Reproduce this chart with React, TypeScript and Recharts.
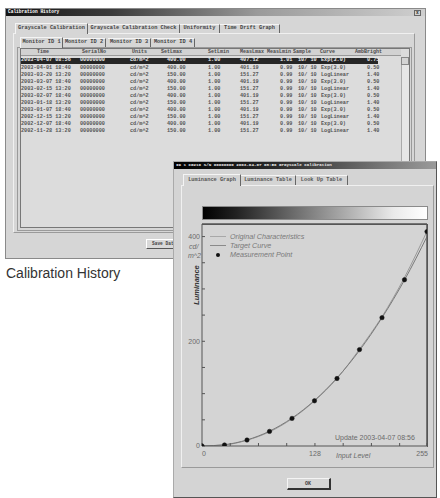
import React, { useEffect, useState } from 'react';
import { ComposedChart, Line, XAxis, YAxis, ReferenceLine, Legend } from 'recharts';

// ---- chart data ----
const inputLevels = [0, 25.5, 51, 76.5, 102, 127.5, 153, 178.5, 204, 229.5, 255];
const originalCharacteristics = [0, 2, 11, 27, 52, 86, 129, 185, 247, 322, 410];
const targetCurve = [0, 2.5, 11.6, 28.3, 53.3, 87, 130, 182.5, 245, 317, 400];
const measurementPoints = [0, 1.9, 11.4, 27.9, 52.7, 86.3, 128.9, 184.1, 245.1, 317.5, 409.5];
const xTicks = [0, 32, 64, 96, 128, 160, 192, 224, 255];
const xTickLabels = [0, 128, 255];
const yTicks = [0, 50, 100, 150, 200, 250, 300, 350, 400];
const yTickLabels = [0, 200, 400];
const legendLabels = ['Original Characteristics', 'Target Curve', 'Measurement Point'];

// ---- background window text ----
const mainTabs = ['Grayscale Calibration', 'Grayscale Calibration Check', 'Uniformity', 'Time Drift Graph'];
const monitorTabs = ['Monitor ID 1', 'Monitor ID 2', 'Monitor ID 3', 'Monitor ID 4'];
const tableHeaders = ['Time', 'SerialNo', 'Units', 'SetLmax', 'SetLmin', 'MeasLmax', 'MeasLmin', 'Sample', 'Curve', 'AmbBright'];
const historyRows = [
  ['2003-04-07 08:56', '00000000', 'cd/m^2', '400.00', '1.00', '407.12', '1.01', '10/ 10', 'Exp(3.0)', '0.75'],
  ['2003-04-01 18:40', '00000000', 'cd/m^2', '400.00', '1.00', '401.19', '0.99', '10/ 10', 'Exp(3.0)', '0.50'],
  ['2003-03-20 13:20', '00000000', 'cd/m^2', '150.00', '1.00', '151.27', '0.99', '10/ 10', 'LogLinear', '1.40'],
  ['2003-03-07 18:40', '00000000', 'cd/m^2', '400.00', '1.00', '401.19', '0.99', '10/ 10', 'Exp(3.0)', '0.50'],
  ['2003-02-15 13:20', '00000000', 'cd/m^2', '150.00', '1.00', '151.27', '0.99', '10/ 10', 'LogLinear', '1.40'],
  ['2003-02-07 18:40', '00000000', 'cd/m^2', '400.00', '1.00', '401.19', '0.99', '10/ 10', 'Exp(3.0)', '0.50'],
  ['2003-01-18 13:20', '00000000', 'cd/m^2', '150.00', '1.00', '151.27', '0.99', '10/ 10', 'LogLinear', '1.40'],
  ['2003-01-07 18:40', '00000000', 'cd/m^2', '400.00', '1.00', '401.19', '0.99', '10/ 10', 'Exp(3.0)', '0.50'],
  ['2002-12-15 13:20', '00000000', 'cd/m^2', '150.00', '1.00', '151.27', '0.99', '10/ 10', 'LogLinear', '1.40'],
  ['2002-12-07 18:40', '00000000', 'cd/m^2', '400.00', '1.00', '401.19', '0.99', '10/ 10', 'Exp(3.0)', '0.50'],
  ['2002-11-28 13:20', '00000000', 'cd/m^2', '150.00', '1.00', '151.27', '0.99', '10/ 10', 'LogLinear', '1.40'],
];
const dialogTabs = ['Luminance Graph', 'Luminance Table', 'Look Up Table'];

const chartData = inputLevels.map((level, i) => ({
  level,
  original: originalCharacteristics[i],
  target: targetCurve[i],
  measured: measurementPoints[i],
}));

const SANS = '"Liberation Sans", Arial, sans-serif';
const MONO = '"Liberation Mono", "DejaVu Sans Mono", monospace';

const box = (x: number, y: number, w: number, h: number, extra: any = {}): any => ({
  position: 'absolute', left: x, top: y, width: w, height: h, boxSizing: 'border-box', ...extra,
});

const T = ({ x, y, size, children, style = {} }: any) => (
  <div style={{ position: 'absolute', left: x, top: y - size / 2, fontSize: size, lineHeight: 1, whiteSpace: 'nowrap', ...style }}>
    {children}
  </div>
);

const colX = [21, 80, 130, 167, 208, 240, 280, 298, 321, 367];
const headX = [37, 82, 132, 161, 208, 240, 267, 293, 320, 355];
const mainTabX = [15, 88, 180, 220];
const mainTabW = [73, 92, 40, 60];
const monTabX = [20, 63, 108, 152];
const dlgTabX = [183, 241, 296];
const dlgTabW = [58, 55, 52];

const XTick = (props: any) => {
  const { x, y, payload } = props;
  const v = payload.value;
  if (!xTickLabels.includes(v)) return null;
  const anchor = v === 255 ? 'end' : 'middle';
  const dx = v === 255 ? 1 : v === 0 ? 2 : 0;
  return (
    <text x={x + dx} y={y} dy="0.71em" textAnchor={anchor} fontSize={7} fill="#6a6a6a" fontFamily={SANS}>
      {v}
    </text>
  );
};

const YTick = (props: any) => {
  const { x, y, payload } = props;
  const v = payload.value;
  if (!yTickLabels.includes(v)) return null;
  return (
    <text x={x} y={y} dy="0.35em" textAnchor="end" fontSize={7} fill="#6a6a6a" fontFamily={SANS}>
      {v}
    </text>
  );
};

const renderLegend = () => (
  <div style={{ fontFamily: SANS, fontStyle: 'italic', fontSize: 7.2, color: '#7a7a7a', lineHeight: '9px' }}>
    {legendLabels.map((label, i) => (
      <div key={label} style={{ display: 'flex', alignItems: 'center', height: 9 }}>
        <div style={{ width: 16, height: 9, position: 'relative', marginRight: 4 }}>
          {i < 2 ? (
            <div style={{ position: 'absolute', left: 0, top: 4, width: 16, height: 1, background: i === 0 ? '#a8a8a8' : '#8a8a8a' }} />
          ) : (
            <div style={{ position: 'absolute', left: 6, top: 3, width: 4, height: 4, borderRadius: 2, background: '#111' }} />
          )}
        </div>
        <span>{label}</span>
      </div>
    ))}
  </div>
);

export default function App() {
  const [pass, setPass] = useState(0);
  useEffect(() => {
    const id = setTimeout(() => setPass(1), 40);
    return () => clearTimeout(id);
  }, []);

  return (
    <div data-pass={pass} style={{ position: 'absolute', left: 0, top: 0, width: 440, height: 498, background: '#fff', overflow: 'hidden', fontFamily: SANS }}>
      {/* ---------- background window ---------- */}
      <div style={box(5, 8, 421, 251, { background: '#d6d6d6', border: '1px solid #8a8a8a' })} />
      <div style={box(6, 9, 419, 7, { background: 'linear-gradient(to right, #151515, #3a3a3a 25%, #9a9a9a 60%, #cfcfcf)' })} />
      <T x={8} y={12.5} size={4.5} style={{ color: '#fff', fontWeight: 'bold', fontFamily: MONO }}>Calibration History</T>
      <div style={box(414, 10, 7, 6, { background: '#d0d0d0', border: '1px solid #666' })} />
      <T x={416} y={13} size={4.5} style={{ color: '#222', fontFamily: MONO, fontWeight: 'bold' }}>x</T>

      <div style={box(13, 33, 402, 200, { border: '1px solid #9a9a9a', borderTopColor: '#f0f0f0', borderLeftColor: '#f0f0f0' })} />
      {mainTabs.map((t, i) => (
        <div key={t} style={box(mainTabX[i], i === 0 ? 23 : 24, mainTabW[i], i === 0 ? 11 : 9, {
          borderRight: '1px solid #666', borderTop: '1px solid #f4f4f4', borderLeft: i === 0 ? '1px solid #f4f4f4' : 'none',
          background: '#d6d6d6', fontFamily: MONO, fontWeight: 'bold', fontSize: 5.3, color: '#444',
          display: 'flex', alignItems: 'center', justifyContent: 'center', whiteSpace: 'nowrap', lineHeight: 1,
        })}>{t}</div>
      ))}

      <div style={box(17, 47, 395, 184, { border: '1px solid #9a9a9a' })} />
      {monitorTabs.map((t, i) => (
        <div key={t} style={box(monTabX[i], i === 0 ? 37 : 38, 43, i === 0 ? 11 : 9, {
          borderRight: '1px solid #666', borderTop: '1px solid #f4f4f4', borderLeft: i === 0 ? '1px solid #f4f4f4' : 'none',
          background: '#d6d6d6', fontFamily: MONO, fontWeight: 'bold', fontSize: 5.3, color: '#444',
          display: 'flex', alignItems: 'center', justifyContent: 'center', whiteSpace: 'nowrap', lineHeight: 1,
        })}>{t}</div>
      ))}

      <div style={box(20, 48, 390, 180, { background: '#dcdcdc', border: '1px solid #777' })} />
      <div style={box(21, 49, 380, 7, { background: '#d2d2d2', borderBottom: '1px solid #999' })} />
      {tableHeaders.map((h, i) => (
        <T key={h} x={headX[i]} y={52.5} size={5} style={{ fontFamily: MONO, fontWeight: 'bold', color: '#4a4a4a' }}>{h}</T>
      ))}
      <div style={box(21, 57.7, 357, 6.6, { background: '#262626' })} />
      {historyRows.map((row, r) =>
        row.map((cell, c) => (
          <T key={r + '-' + c} x={colX[c]} y={61 + r * 7.1} size={5.2}
            style={{ fontFamily: MONO, fontWeight: 'bold', color: r === 0 ? '#e8e8e8' : '#555' }}>{cell}</T>
        ))
      )}
      <div style={box(401, 57, 8, 170, { background: '#e6e6e6', borderLeft: '1px solid #aaa' })} />
      <div style={box(401, 57, 8, 8, { background: '#d4d4d4', border: '1px solid #888' })} />

      <div style={box(146, 239, 46, 10, { background: '#d8d8d8', border: '1px solid #555', borderTopColor: '#fff', borderLeftColor: '#fff' })} />
      <T x={152} y={244} size={4.5} style={{ fontFamily: MONO, fontWeight: 'bold', color: '#444' }}>Save Data</T>

      <T x={6} y={273} size={14} style={{ fontFamily: SANS, color: '#333' }}>Calibration History</T>

      {/* ---------- front dialog ---------- */}
      <div style={box(173, 161, 264, 337, { background: '#d4d4d4', border: '1px solid #555', borderTopColor: '#aaa', borderLeftColor: '#aaa' })} />
      <div style={box(174, 162, 262, 7, { background: 'linear-gradient(to right, #000, #2a2a2a 40%, #777 80%, #9a9a9a)' })} />
      <T x={176} y={165.5} size={4.2} style={{ color: '#eee', fontFamily: MONO, fontWeight: 'bold' }}>ID 1  CG210  S/N 00000000  2003-04-07 08:56  Grayscale Calibration</T>

      <div style={box(181, 185, 253, 283, { border: '1px solid #9a9a9a', borderTopColor: '#f0f0f0', borderLeftColor: '#f0f0f0' })} />
      {dialogTabs.map((t, i) => (
        <div key={t} style={box(dlgTabX[i], i === 0 ? 174 : 175, dlgTabW[i], i === 0 ? 12 : 10, {
          borderRight: '1px solid #666', borderTop: '1px solid #f4f4f4', borderLeft: i === 0 ? '1px solid #f4f4f4' : 'none',
          background: '#d4d4d4', fontFamily: MONO, fontWeight: 'bold', fontSize: 5.3, color: '#555',
          display: 'flex', alignItems: 'center', justifyContent: 'center', whiteSpace: 'nowrap', lineHeight: 1,
        })}>{t}</div>
      ))}

      <div style={box(202, 206, 226, 14, {
        background: 'linear-gradient(to right, #000 0%, #222 15%, #6a6a6a 40%, #b0b0b0 65%, #eaeaea 85%, #fff 100%)',
        border: '1px solid #8a8a8a',
      })} />

      {/* plot frame (top / right edges) */}
      <div style={box(202, 223.5, 225.5, 223, { borderTop: '1px solid #5a5a5a', borderRight: '1px solid #5a5a5a' })} />

      <div style={box(287, 478, 44, 12, { background: '#d6d6d6', border: '1px solid #333', borderTopColor: '#f4f4f4', borderLeftColor: '#f4f4f4', borderRightWidth: 2, borderBottomWidth: 2 })} />
      <T x={305} y={484} size={5} style={{ fontFamily: MONO, fontWeight: 'bold', color: '#444' }}>OK</T>

      {/* axis annotations */}
      <T x={189} y={246} size={7} style={{ fontStyle: 'italic', color: '#6a6a6a' }}>cd/</T>
      <T x={188} y={255} size={7} style={{ fontStyle: 'italic', color: '#6a6a6a' }}>m^2</T>
      <div style={{ position: 'absolute', left: 197, top: 285, transform: 'translate(-50%, -50%) rotate(-90deg)', fontSize: 7.5, fontWeight: 'bold', color: '#333', whiteSpace: 'nowrap', lineHeight: 1, fontStyle: 'italic' }}>Luminance</div>
      <T x={336} y={455} size={7} style={{ fontStyle: 'italic', color: '#6a6a6a' }}>Input Level</T>
      <T x={335} y={437} size={7} style={{ color: '#6a6a6a' }}>Update 2003-04-07 08:56</T>

      {/* ---------- chart ---------- */}
      <div style={{ position: 'absolute', left: 172, top: 160, width: 268, height: 338 }}>
        <ComposedChart width={268} height={338} data={chartData} margin={{ top: 63, right: 12, bottom: 51, left: 29 }}>
          <XAxis xAxisId="bottom" type="number" dataKey="level" domain={[0, 255]} ticks={xTicks} height={1} interval={0}
            tickSize={-3} tickMargin={8} tick={<XTick />} stroke="#555" allowDataOverflow />
          <XAxis xAxisId="top" orientation="top" type="number" dataKey="level" domain={[0, 255]} height={1}
            tick={false} tickLine={false} stroke="#555" allowDataOverflow />
          <YAxis yAxisId="left" type="number" domain={[0, 424]} ticks={yTicks} width={1} interval={0} tickSize={-3} tickMargin={5}
            tick={<YTick />} stroke="#555" allowDataOverflow />
          <YAxis yAxisId="right" orientation="right" type="number" domain={[0, 424]} width={1}
            tick={false} tickLine={false} stroke="#555" allowDataOverflow />
          <ReferenceLine xAxisId="bottom" yAxisId="left" y={424} stroke="#555" ifOverflow="visible" />
          <ReferenceLine xAxisId="bottom" yAxisId="left" x={255} stroke="#555" ifOverflow="visible" />
          <Legend content={renderLegend} layout="horizontal" verticalAlign="middle" align="center"
            wrapperStyle={{ left: 38, top: 72, width: 140 }} />
          <Line xAxisId="bottom" yAxisId="left" type="monotone" dataKey="original" stroke="#9a9a9a" strokeWidth={1} dot={false} isAnimationActive={false} />
          <Line xAxisId="bottom" yAxisId="left" type="monotone" dataKey="target" stroke="#7a7a7a" strokeWidth={1} dot={false} isAnimationActive={false} />
          <Line xAxisId="bottom" yAxisId="left" type="monotone" dataKey="measured" stroke="none" dot={{ r: 2.2, fill: '#111', stroke: '#111', strokeWidth: 0.5 }} isAnimationActive={false} legendType="none" />
        </ComposedChart>
      </div>
    </div>
  );
}
